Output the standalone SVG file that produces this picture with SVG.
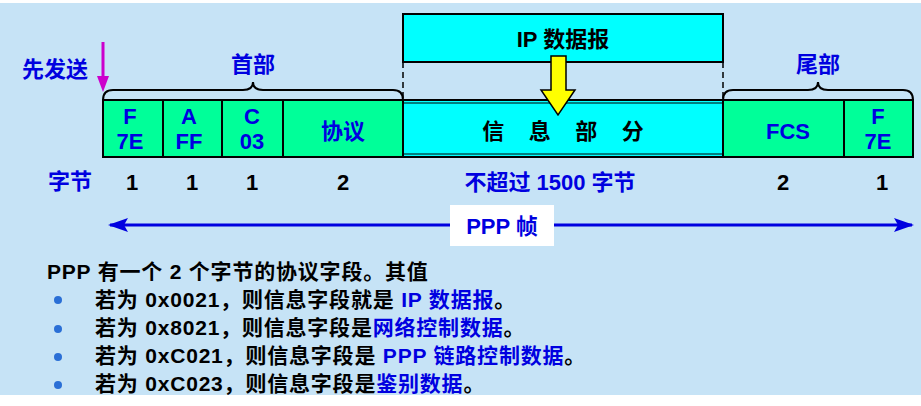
<svg xmlns="http://www.w3.org/2000/svg" width="921" height="406" viewBox="0 0 921 406">
<style>
text{font-family:"Liberation Sans","Noto Sans CJK SC",sans-serif;font-weight:bold}
.b{fill:#0000e0}.k{fill:#000}
.g{fill:#00ff99;stroke:#000;stroke-width:2}
.c{fill:#00ffff;stroke:#000;stroke-width:2}
.br{fill:none;stroke:#000;stroke-width:2}
.t{font-size:22px;text-anchor:middle}
.l{font-size:21px;letter-spacing:0.8px}
</style>
<defs>
<marker id="bl" markerWidth="20" markerHeight="14" refX="18" refY="7" orient="auto-start-reverse" markerUnits="userSpaceOnUse"><path d="M0,0L20,7L0,14L4,7z" fill="#0000e0"/></marker>
</defs>
<rect width="921" height="406" fill="#fff"/>
<rect x="0" y="3" width="921" height="392" fill="#c6e3f6"/>
<g id="connectors">
<line x1="103" y1="42" x2="103" y2="80" stroke="#cc00cc" stroke-width="3"/>
<path d="M97,76L109,76L103,92z" fill="#cc00cc"/>
<path class="br" d="M103,100 Q103,90 113,90 L243,90 Q253,90 253,82 Q253,90 263,90 L393,90 Q403,90 403,100"/>
<path class="br" d="M723,100 Q723,90 733,90 L808,90 Q818,90 818,82 Q818,90 828,90 L903,90 Q913,90 913,100"/>
<line x1="403" y1="62" x2="403" y2="100" stroke="#000" stroke-width="1.5" stroke-dasharray="6,4"/>
<line x1="723" y1="62" x2="723" y2="100" stroke="#000" stroke-width="1.5" stroke-dasharray="6,4"/>
<line x1="110" y1="225" x2="912" y2="225" stroke="#0000e0" stroke-width="3" marker-start="url(#bl)" marker-end="url(#bl)"/>
</g>
<g id="ip"><rect class="c" x="403" y="14" width="320" height="48"/><text class="t k" x="563" y="47">IP 数据报</text></g>
<g id="f1"><rect class="g" x="103" y="100" width="60" height="57"/><text class="t b" x="130" y="124">F</text><text class="t b" x="130" y="149">7E</text></g>
<g id="a"><rect class="g" x="163" y="100" width="59" height="57"/><text class="t b" x="189" y="124">A</text><text class="t b" x="189" y="149">FF</text></g>
<g id="c"><rect class="g" x="222" y="100" width="61" height="57"/><text class="t b" x="252" y="124">C</text><text class="t b" x="252" y="149">03</text></g>
<g id="proto"><rect class="g" x="283" y="100" width="120" height="57"/><text class="t b" x="343" y="139">协议</text></g>
<g id="info"><rect class="c" x="403" y="100" width="320" height="57"/><line x1="403" y1="103" x2="723" y2="103" stroke="#000"/><line x1="403" y1="154" x2="723" y2="154" stroke="#000"/><text class="t k" x="563" y="139" xml:space="preserve">信    息    部    分</text></g>
<g id="fcs"><rect class="g" x="723" y="100" width="121" height="57"/><text class="t b" x="788" y="139">FCS</text></g>
<g id="f2"><rect class="g" x="844" y="100" width="69" height="57"/><text class="t b" x="878" y="124">F</text><text class="t b" x="878" y="149">7E</text></g>
<g id="yarrow"><path d="M551,56L566,56L566,90L575,90L558,115L541,90L551,90z" fill="#ffff00" stroke="#000" stroke-width="1.5"/></g>
<text class="t b" x="55" y="77">先发送</text>
<text class="t b" x="253" y="72">首部</text>
<text class="t b" x="818" y="72">尾部</text>
<text class="t b" x="70" y="189">字节</text>
<text class="t k" x="132" y="190">1</text><text class="t k" x="192" y="190">1</text><text class="t k" x="252" y="190">1</text><text class="t k" x="343" y="190">2</text>
<text class="t b" x="550" y="190">不超过 1500 字节</text>
<text class="t k" x="783" y="190">2</text><text class="t k" x="882" y="190">1</text>
<rect x="450" y="205" width="104" height="41" fill="#fff"/>
<text class="t b" x="502" y="234">PPP 帧</text>
<text class="l k" x="47" y="279">PPP 有一个 2 个字节的协议字段。其值</text>
<g fill="#2a6fd6"><circle cx="58" cy="300" r="4"/><circle cx="58" cy="329" r="4"/><circle cx="58" cy="357" r="4"/><circle cx="58" cy="385" r="4"/></g>
<text class="l k" x="95" y="307">若为 0x0021，则信息字段就是 <tspan class="b">IP 数据报</tspan>。</text>
<text class="l k" x="95" y="335">若为 0x8021，则信息字段是<tspan class="b">网络控制数据</tspan>。</text>
<text class="l k" x="95" y="363">若为 0xC021，则信息字段是 <tspan class="b">PPP 链路控制数据</tspan>。</text>
<text class="l k" x="95" y="391">若为 0xC023，则信息字段是<tspan class="b">鉴别数据</tspan>。</text>
</svg>
